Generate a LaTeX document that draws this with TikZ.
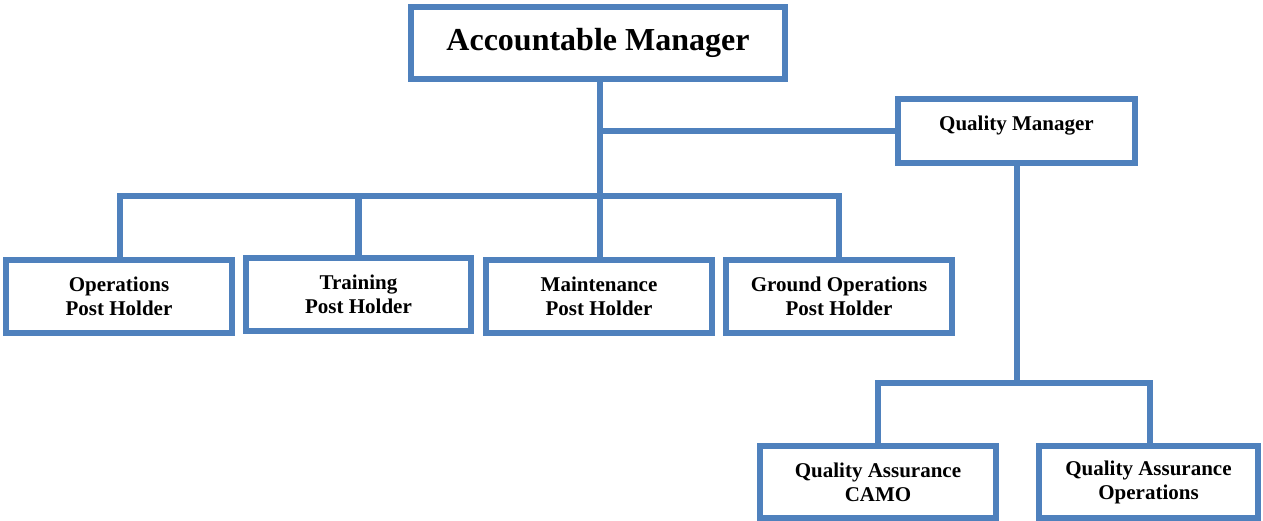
\documentclass[tikz,border=0pt]{standalone}
\usepackage{fontspec}
\setmainfont{Liberation Serif}
\definecolor{boxblue}{RGB}{79,129,189}
\begin{document}
\begin{tikzpicture}[x=1pt,y=-1pt,
  orgbox/.style={draw=boxblue, line width=6.5pt, fill=white, rectangle, inner sep=0pt, outer sep=0pt,
    align=center, font=\bfseries\fontsize{21}{24}\selectfont},
  link/.style={draw=boxblue, line width=6.5pt, line join=miter}]
\useasboundingbox (0,0) rectangle (1263,521);
\coordinate (bus) at (600,196);
\coordinate (qbus) at (1017,383);
% boxes
\node[orgbox, minimum width=374pt, minimum height=72pt, font=\bfseries\fontsize{32}{38}\selectfont] (AM) at (598,43) {Accountable Manager};
\node[orgbox, minimum width=237pt, minimum height=64pt] (QM) at (1016.5,131) {\smash{Quality Manager}};
\node[orgbox, minimum width=226pt, minimum height=73pt] (Ops) at (119,296.5) {Operations\\Post Holder};
\node[orgbox, minimum width=225pt, minimum height=73pt] (Train) at (358.5,294.5) {Training\\Post Holder};
\node[orgbox, minimum width=226pt, minimum height=73pt] (Maint) at (599,296.5) {Maintenance\\Post Holder};
\node[orgbox, minimum width=226pt, minimum height=73pt] (Ground) at (839,296.5) {Ground Operations\\Post Holder};
\node[orgbox, minimum width=236pt, minimum height=72pt] (CAMO) at (878,482) {Quality Assurance\\CAMO};
\node[orgbox, minimum width=219pt, minimum height=72pt] (QAOps) at (1148.5,482) {Quality Assurance\\Operations};
% links
\draw[link] (AM.south -| bus) -- (bus);
\draw[link] (QM.west) -- (QM.west -| bus);
\draw[link] (Ops.north -| 120,0) -- (bus -| 120,0) -- (bus -| Ground.north) -- (Ground.north);
\draw[link] (Train.north) -- (Train.north |- bus);
\draw[link] (bus) -- (bus |- Maint.north);
\draw[link] (QM.south -| qbus) -- (qbus);
\draw[link] (CAMO.north) -- (CAMO.north |- qbus) -- (qbus -| 1150,0) -- (CAMO.north -| 1150,0);
\end{tikzpicture}
\end{document}
